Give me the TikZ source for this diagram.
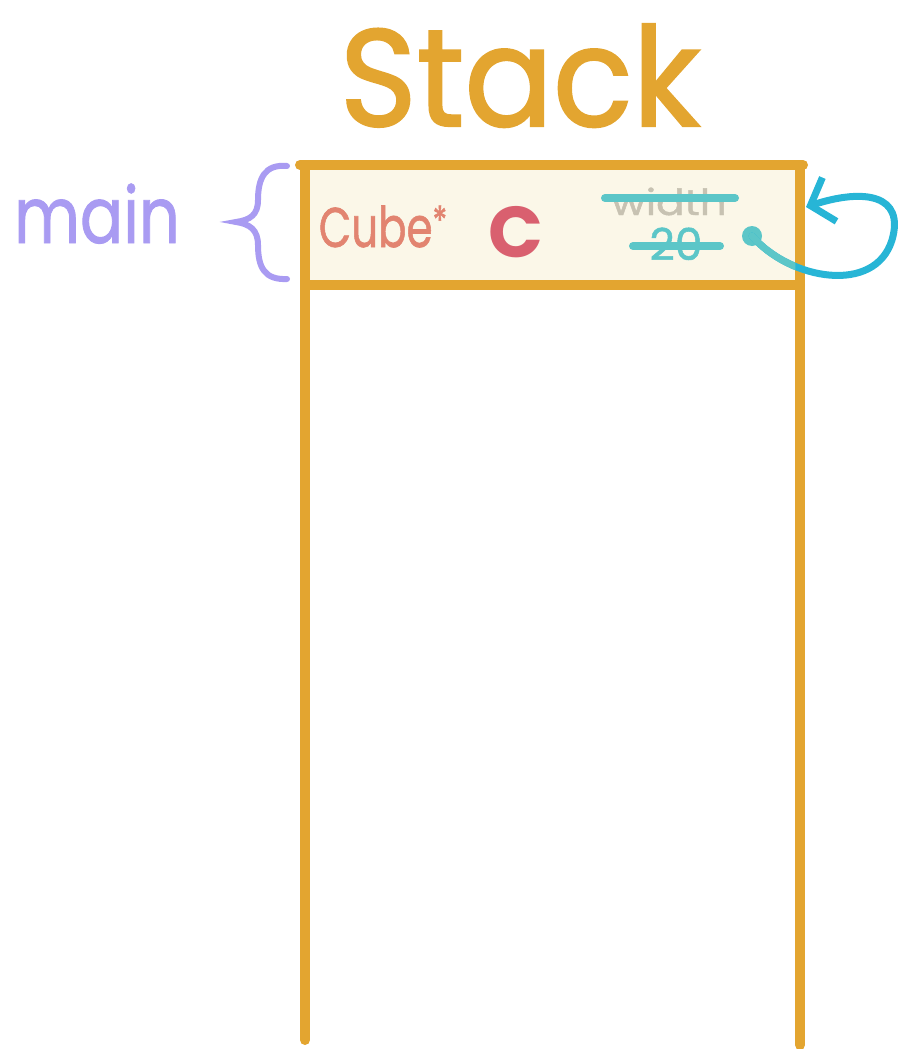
\documentclass[tikz,border=0pt]{standalone}
\usepackage{fontspec}
\setmainfont{Poppins}
\newfontfamily\hand[FakeBold=1.2]{Poppins}
\newfontfamily\handthick[FakeBold=1.6]{Poppins}
\usetikzlibrary{arrows.meta}
\definecolor{frameor}{HTML}{E3A530}
\definecolor{cream}{HTML}{FBF7E8}
\definecolor{lilac}{HTML}{A99BF2}
\definecolor{salmon}{HTML}{E28470}
\definecolor{cred}{HTML}{D9606F}
\definecolor{ghost}{HTML}{C7C2B2}
\definecolor{teal}{HTML}{5CC6C8}
\definecolor{sky}{HTML}{27B5D6}
\tikzset{
  frameline/.style={draw=frameor,line width=10pt,line cap=round},
  strike/.style={draw=teal,line width=8pt,line cap=round},
  lbl/.style={inner sep=0pt,anchor=base},
}
\begin{document}
\begin{tikzpicture}[x=1pt,y=-1pt]
\useasboundingbox (0,0) rectangle (898,1049);
% title
\node[lbl,text=frameor,font=\handthick\fontsize{138}{138}\selectfont] (title) at (520,126) {\scalebox{0.95}[1]{Stack}};
% cell
\node[fill=cream,minimum width=495pt,minimum height=120pt,inner sep=0pt,anchor=north west] (cell) at (305,165) {};
% frame
\draw[frameline] (300,165) -- (803,165);
\draw[frameline] (305,165) -- (305,1040);
\draw[frameline] (800,165) -- (800,1045);
\draw[frameline] (305,285) -- (800,285);
% main label and brace
\node[lbl,text=lilac,font=\hand\fontsize{78}{78}\selectfont] (main) at (97,243) {\scalebox{0.82}[1]{main}};
\draw[lilac,line width=6pt,line cap=round] (287,166) .. controls (265,164) and (258,178) .. (258,200) .. controls (258,215) and (250,220) .. (236,222) .. controls (250,224) and (258,230) .. (258,245) .. controls (258,268) and (265,280) .. (287,279);
% cell contents
\node[lbl,text=salmon,font=\hand\fontsize{56}{56}\selectfont] (cube) at (383,247) {\scalebox{0.75}[1]{Cube\raisebox{12pt}{\handthick\fontsize{40}{40}\selectfont *}}};
\node[lbl,text=cred,font=\bfseries\fontsize{72}{72}\selectfont] (cvar) at (516,257) {C};
\node[lbl,text=ghost,font=\hand\fontsize{40}{40}\selectfont] (width) at (669,215) {\scalebox{1.05}[0.9]{width}};
\draw[strike] (605,198) -- (735,198);
\node[lbl,text=teal,font=\hand\fontsize{44}{44}\selectfont] (val) at (676,260) {20};
\draw[strike] (633,246) -- (720,246);
% pointer
\node[circle,fill=teal,minimum size=20pt,inner sep=0pt] (dot) at (752,236) {};
\coordinate (tip) at (806,207);
\draw[sky,line width=7pt,line cap=round,-{Straight Barb[length=20pt,width=46pt,line width=7pt]}]
  (dot.center) .. controls (790,280) and (875,295) .. (892,240) .. controls (905,195) and (865,188) .. (tip);
\begin{scope}
\clip (cell.north west) rectangle ([xshift=-5pt]cell.south east);
\draw[teal,line width=7pt,line cap=round] (dot.center) .. controls (790,280) and (875,295) .. (892,240);
\end{scope}
\end{tikzpicture}
\end{document}
